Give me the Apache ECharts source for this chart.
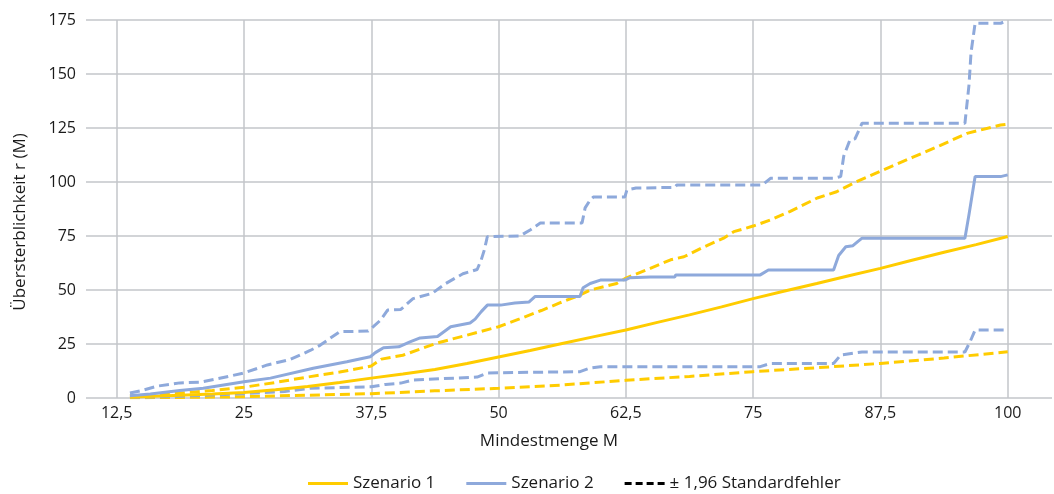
<!DOCTYPE html>
<html>
<head>
<meta charset="utf-8">
<script src="https://cdn.jsdelivr.net/npm/echarts@6/dist/echarts.min.js"></script>
<style>
html,body{margin:0;padding:0;background:#fff;}
#chart{width:1054px;height:494px;}
</style>
</head>
<body>
<div id="chart"></div>
<script>
// ---- data: [Mindestmenge M, Übersterblichkeit r(M)] ----
const xTicks = [12.5, 25, 37.5, 50, 62.5, 75, 87.5, 100];
const yTicks = [0, 25, 50, 75, 100, 125, 150, 175];

const szenario1 = [[13.8,0.4],[16,0.8],[18.75,1.3],[21.9,1.9],[25,2.6],[28.1,3.8],[31.25,5.3],[34.4,7.2],[37.5,9.2],[40.6,11.1],[43.75,13.2],[46.9,16],[50,19],[53.1,22],[56.25,25.2],[59.4,28.4],[62.5,31.5],[65.6,35],[68.75,38.5],[71.9,42.2],[75,46],[78.1,49.5],[81.25,53],[84.4,56.6],[87.5,60],[90.6,63.8],[93.75,67.5],[96.9,71],[100,74.8]];

const szenario1Upper = [[13.8,0.9],[16,1.5],[18.75,2.3],[21.9,3.5],[25,5],[28.1,7.2],[31.25,9.7],[34.4,12],[37.5,14.8],[38.5,18],[40.6,19.8],[44,25.5],[48.2,30.7],[50,33],[52,36.5],[54.2,40.5],[56,44],[58,47.7],[59,50],[61.6,53],[62.5,55.5],[64.9,60],[66.9,64],[68.2,65.4],[70.2,70],[72.1,74],[73.1,77],[75,79.6],[76.7,82.4],[78.6,86.3],[81.3,92.6],[83.2,95.5],[85.1,100],[87.5,105],[90.7,111.5],[93.4,117],[96,122.5],[99.3,126.4],[100,126.8]];

const szenario1Lower = [[13.8,0.1],[20,0.3],[25,0.6],[31.25,1.3],[37.5,2],[43.75,3.3],[50,4.5],[56.25,6],[62.5,8.2],[68.75,10],[75,12.2],[81.25,14],[87.5,16],[93.75,18.5],[100,21.4]];

const szenario2 = [[13.8,1],[15.8,1.8],[18.7,3.5],[21,4.5],[25,7.5],[27.6,9.2],[31.8,13.8],[35.1,16.8],[37.4,19.1],[37.9,21],[38.7,23.3],[40.2,23.7],[41.3,26],[42.3,27.8],[44.0,28.5],[45.3,33],[47.2,34.7],[47.7,36.5],[48.3,40],[48.9,43],[50.2,43],[51.6,44],[53.0,44.5],[53.6,47],[58.0,47],[58.3,51],[59.0,53],[60.0,54.6],[62.4,54.6],[62.9,55.7],[64.9,56],[67.3,56],[67.4,57],[75.7,57],[76.5,59.3],[82.9,59.3],[83.4,66],[84.1,70],[84.8,70.5],[85.3,72.5],[85.7,74],[95.8,74],[96.2,85],[96.8,102.5],[99.3,102.5],[100,103.3]];

const szenario2Upper = [[13.8,2.3],[15,3.5],[16.5,5.5],[18.7,7],[20.7,7.3],[22.5,9],[25,11.6],[27.3,15.3],[29.5,17.8],[31.5,22],[32.5,24.5],[34.4,30.7],[37.2,31],[37.7,33],[38.4,36],[39.1,40.7],[40.4,41],[41.6,46],[43.5,48.5],[44.8,53],[46.5,57.5],[47.9,59.5],[48.3,64],[48.6,68.5],[48.9,74.7],[52.1,75],[53.1,77.8],[54.1,81],[58.2,81],[58.5,88],[59.0,91.7],[59.3,93],[62.4,93],[62.6,96.3],[63.5,97.2],[67.3,97.5],[67.5,98.6],[75.9,98.6],[76.7,101.7],[82.9,101.7],[83.6,102.5],[83.9,112],[84.5,119.4],[85.0,120],[85.7,127.2],[95.8,127.2],[96.2,145],[96.4,160],[96.8,173.5],[99.3,173.5],[100,174.7]];

const szenario2Lower = [[13.8,0.3],[18.7,0.8],[25,2],[29,3],[31.5,4.5],[37.5,5.2],[38.9,6.3],[40.4,6.9],[41.6,8.3],[47.9,9.7],[48.9,11.6],[58.0,12.2],[59.0,13.9],[60,14.5],[75.7,14.5],[76.7,16],[82.9,16],[83.6,19.9],[85.7,21.3],[95.8,21.3],[96.3,26],[96.8,31.5],[100,31.5]];

const legendNames = ['Szenario 1', 'Szenario 2', '± 1,96 Standardfehler'];

// ---- styling ----
const YELLOW = '#FFCC00';
const BLUE = '#8EA9DB';
const GRID = '#C3C6CA';
const TXT = '#1a1a1a';
const FONT = '"Open Sans", "Liberation Sans", sans-serif';
const DASH = [10, 5];
const ICON_SOLID = 'path://M0,0H40V3H0Z';
const ICON_DASH = 'path://M0,0H7V3H0Z M11,0H18V3H11Z M22,0H29V3H22Z M33,0H40V3H33Z';

function mk(name, data, color, dashed) {
  return {
    name: name, type: 'line', data: data,
    xAxisIndex: 1, yAxisIndex: 1,
    symbol: 'none', showSymbol: false, smooth: false, animation: false,
    lineStyle: { color: color, width: 3, type: dashed ? DASH : 'solid' },
    itemStyle: { color: color },
    z: dashed ? 3 : 4
  };
}

const chart = echarts.init(document.getElementById('chart'), null, { renderer: 'canvas' });
chart.setOption({
  animation: false,
  textStyle: { fontFamily: FONT, color: TXT },
  grid: [
    { left: 86, right: 2, top: 20, bottom: 96 },
    { left: 116.7, right: 46.3, top: 20, bottom: 96 }
  ],
  xAxis: [
    { gridIndex: 0, type: 'value', min: 0, max: 1, show: false },
    {
      gridIndex: 1, type: 'value', min: xTicks[0], max: xTicks[xTicks.length - 1], interval: 12.5,
      axisLine: { show: false }, axisTick: { show: false },
      splitLine: { show: true, lineStyle: { color: GRID, width: 1.5 } },
      axisLabel: {
        fontFamily: FONT, fontSize: 16, color: TXT, margin: 7,
        formatter: function (v) { return String(v).replace('.', ','); }
      }
    }
  ],
  yAxis: [
    {
      gridIndex: 0, type: 'value', min: yTicks[0], max: yTicks[yTicks.length - 1], interval: 25,
      axisLine: { show: false }, axisTick: { show: false },
      splitLine: { show: true, lineStyle: { color: GRID, width: 1.5 } },
      axisLabel: { fontFamily: FONT, fontSize: 16, color: TXT, margin: 10 }
    },
    { gridIndex: 1, type: 'value', min: 0, max: 175, show: false }
  ],
  legend: {
    data: [
      { name: legendNames[0], icon: ICON_SOLID },
      { name: legendNames[1], icon: ICON_SOLID },
      { name: legendNames[2], icon: ICON_DASH }
    ],
    left: 303, top: 470,
    itemWidth: 40, itemHeight: 14, itemGap: 31,
    textStyle: { fontFamily: FONT, fontSize: 17, color: TXT },
    selectedMode: false
  },
  graphic: [
    { type: 'text', x: 549, y: 441, style: { text: 'Mindestmenge M', font: '17px ' + FONT, fill: TXT, textAlign: 'center', textVerticalAlign: 'middle' } },
    { type: 'text', x: 20, y: 222, rotation: Math.PI / 2, style: { text: 'Übersterblichkeit r (M)', font: '17px ' + FONT, fill: TXT, textAlign: 'center', textVerticalAlign: 'middle' } }
  ],
  series: [
    mk('S1 unten', szenario1Lower, YELLOW, true),
    mk('S1 oben', szenario1Upper, YELLOW, true),
    mk('S2 unten', szenario2Lower, BLUE, true),
    mk('S2 oben', szenario2Upper, BLUE, true),
    mk(legendNames[0], szenario1, YELLOW, false),
    mk(legendNames[1], szenario2, BLUE, false),
    {
      name: legendNames[2], type: 'line', data: [], xAxisIndex: 1, yAxisIndex: 1,
      symbol: 'none', lineStyle: { color: '#000', width: 2, type: [5, 4] }, itemStyle: { color: '#000' }
    }
  ]
});
</script>
</body>
</html>
